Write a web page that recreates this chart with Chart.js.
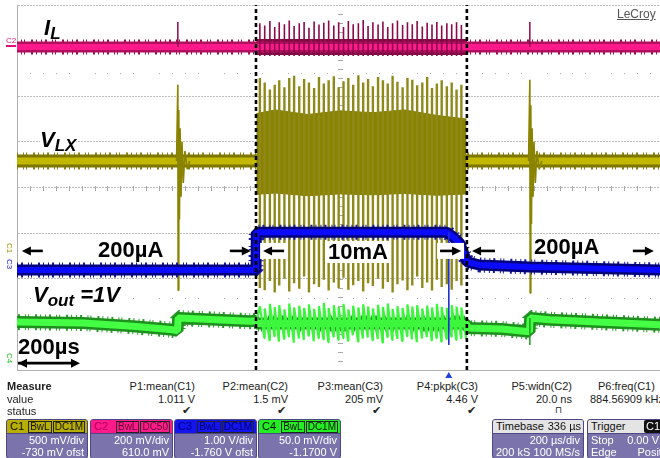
<!DOCTYPE html>
<html>
<head>
<meta charset="utf-8">
<script src="https://cdn.jsdelivr.net/npm/chart.js@4.4.0/dist/chart.umd.min.js"></script>
<style>
  body { margin: 0; width: 660px; height: 458px; overflow: hidden; position: relative; background: #fff;
         font-family: "Liberation Sans", Arial, sans-serif; }
  #scope { position: absolute; left: 0; top: 0; }
  .lbl { position: absolute; font-weight: bold; color: #000; background: #fff; line-height: 1; white-space: nowrap; font-size: 22px; }
  .it { font-style: italic; }
  .sub { font-size: 17px; position: relative; top: 4px; }
  .ch { position: absolute; font-size: 8px; line-height: 1; }
  .m { position: absolute; font-size: 11px; line-height: 1; color: #222; white-space: nowrap; }
  .box { position: absolute; top: 419px; height: 40px; background: #7b73ab; border: 1px solid #4e4785;
         border-radius: 3px; color: #fff; font-size: 11px; overflow: hidden; box-sizing: border-box; }
  .hd { height: 13px; line-height: 13px; padding: 0 3px; position: relative; border-bottom: 1px solid #4e4785; }
  .hd .r { position: absolute; right: 2px; top: 0; }
  .bd { height: 12px; line-height: 12px; padding: 0 3px; text-align: right; position: relative; }
  .bd .l { position: absolute; left: 3px; }
  .bdg { border: 1px solid #222; padding: 0 1px; font-size: 10px; line-height: 10px; display: inline-block; margin-left: 1px; }
</style>
</head>
<body>
<canvas id="scope" width="660" height="378"></canvas>

<!-- trace annotations -->
<div class="lbl it" style="left:44px;top:17px;">I<span class="sub">L</span></div>
<div class="lbl it" style="left:40px;top:129px;">V<span class="sub">LX</span></div>
<div class="lbl" style="left:96px;top:239px;padding:0 2px;">200µA</div>
<div class="lbl" style="left:326px;top:241px;padding:0 2px;">10mA</div>
<div class="lbl" style="left:532px;top:236px;padding:0 2px;">200µA</div>
<div class="lbl it" style="left:33px;top:284px;padding-right:4px;">V<span class="sub">out</span> =1V</div>
<div class="lbl" style="left:18px;top:336px;">200µs</div>
<div class="m" style="left:617px;top:8px;font-size:12px;color:#555;text-decoration:underline;">LeCroy</div>

<!-- channel markers -->
<div class="ch" style="left:6px;top:37px;color:#e0107a;border-bottom:2px solid #e0107a;">C2</div>
<div class="ch" style="left:5px;top:243px;color:#9a9300;writing-mode:vertical-rl;">C1</div>
<div class="ch" style="left:5px;top:259px;color:#1010d0;writing-mode:vertical-rl;">C3</div>
<div class="ch" style="left:5px;top:353px;color:#22c022;writing-mode:vertical-rl;">C4</div>

<!-- measurement table -->
<div class="m" style="left:7px;top:381px;font-weight:bold;">Measure</div>
<div class="m" style="left:7px;top:394px;">value</div>
<div class="m" style="left:7px;top:406px;">status</div>

<div class="m" style="right:465px;top:381px;">P1:mean(C1)</div>
<div class="m" style="right:465px;top:394px;">1.011 V</div>
<div class="m" style="right:469px;top:405px;">✔</div>
<div class="m" style="right:372px;top:381px;">P2:mean(C2)</div>
<div class="m" style="right:372px;top:394px;">1.5 mV</div>
<div class="m" style="right:374px;top:405px;">✔</div>
<div class="m" style="right:277px;top:381px;">P3:mean(C3)</div>
<div class="m" style="right:277px;top:394px;">205 mV</div>
<div class="m" style="right:279px;top:405px;">✔</div>
<div class="m" style="right:182px;top:381px;">P4:pkpk(C3)</div>
<div class="m" style="right:182px;top:394px;">4.46 V</div>
<div class="m" style="right:184px;top:405px;">✔</div>
<div class="m" style="right:88px;top:381px;">P5:widn(C2)</div>
<div class="m" style="right:88px;top:394px;">20.0 ns</div>
<div class="m" style="right:98px;top:406px;font-size:9px;">⊓</div>
<div class="m" style="left:598px;top:381px;">P6:freq(C1)</div>
<div class="m" style="left:590px;top:394px;">884.56909 kHz</div>

<!-- channel boxes -->
<div class="box" style="left:6px;width:82px;">
  <div class="hd" style="background:#b8ae00;color:#111;">C1<span class="r"><span class="bdg">BwL</span><span class="bdg">DC1M</span></span></div>
  <div class="bd">500 mV/div</div>
  <div class="bd">-730 mV ofst</div>
</div>
<div class="box" style="left:90px;width:83px;">
  <div class="hd" style="background:#ff1a8c;color:#b0005a;">C2<span class="r"><span class="bdg" style="color:#600030;">BwL</span><span class="bdg" style="color:#600030;">DC50</span></span></div>
  <div class="bd">200 mV/div</div>
  <div class="bd">610.0 mV</div>
</div>
<div class="box" style="left:174px;width:83px;">
  <div class="hd" style="background:#1414f0;color:#00008a;">C3<span class="r"><span class="bdg" style="color:#00006a;">BwL</span><span class="bdg" style="color:#00006a;">DC1M</span></span></div>
  <div class="bd">1.00 V/div</div>
  <div class="bd">-1.760 V ofst</div>
</div>
<div class="box" style="left:258px;width:83px;">
  <div class="hd" style="background:#22ee22;color:#111;">C4<span class="r"><span class="bdg">BwL</span><span class="bdg">DC1M</span></span></div>
  <div class="bd">50.0 mV/div</div>
  <div class="bd">-1.1700 V</div>
</div>
<div class="box" style="left:492px;width:92px;">
  <div class="hd" style="background:#e4e4e4;color:#111;">Timebase<span class="r">336 µs</span></div>
  <div class="bd">200 µs/div</div>
  <div class="bd"><span class="l">200 kS</span>100 MS/s</div>
</div>
<div class="box" style="left:587px;width:90px;">
  <div class="hd" style="background:#e4e4e4;color:#111;">Trigger<span class="r" style="right:14px;background:#111;color:#fff;padding:0 2px;border-radius:2px;">C1</span></div>
  <div class="bd" style="padding-right:17px;"><span class="l">Stop</span>0.00 V</div>
  <div class="bd" style="padding-right:0;"><span class="l">Edge</span>Positive</div>
</div>

<script>
// time axis in µs (200 µs/div), vertical axis in screen divisions (0 = bottom, 8 = top)
const timeMax = 1991;

// switching burst, one entry per visible pulse
const burstT = [752, 767, 783, 798, 812, 828, 843, 858, 874, 889, 904, 920, 935, 950, 965, 981, 996, 1011, 1026, 1041, 1057,
                1072, 1087, 1102, 1118, 1133, 1148, 1163, 1178, 1194, 1209, 1224, 1239, 1255, 1270, 1285, 1300, 1315, 1331, 1346, 1361, 1376];

// C2 - inductor current
const ilLevel = 7.08;
const ilSingleT = [498, 1588];
const ilSingleTop = [7.63, 7.63];
const ilBurstTop = [7.60, 7.55, 7.65, 7.52, 7.62, 7.58, 7.66, 7.54, 7.60, 7.63, 7.50, 7.64, 7.57, 7.61, 7.66, 7.55, 7.62, 7.52, 7.65, 7.58, 7.60,
                    7.67, 7.54, 7.62, 7.57, 7.64, 7.52, 7.60, 7.66, 7.56, 7.62, 7.58, 7.65, 7.53, 7.61, 7.57, 7.63, 7.55, 7.60, 7.58, 7.62, 7.56];

// C1 - switch node
const vlxLevel = 4.58;
const vlxBurstTop = [6.40, 6.30, 6.15, 6.25, 6.35, 6.20, 6.40, 6.45, 6.22, 6.38, 6.30, 6.18, 6.42, 6.28, 6.35, 6.44, 6.20, 6.33, 6.40, 6.25, 6.46,
                     6.30, 6.38, 6.22, 6.42, 6.35, 6.28, 6.45, 6.32, 6.20, 6.40, 6.36, 6.24, 6.30, 6.42, 6.18, 6.28, 6.35, 6.22, 6.30, 6.15, 6.25];
const vlxBurstBot = [1.80, 1.75, 1.95, 1.70, 1.85, 2.00, 1.72, 1.90, 1.78, 2.05, 1.70, 1.88, 1.82, 1.98, 1.74, 1.92, 1.80, 2.02, 1.76, 1.86, 1.95,
                     1.72, 1.90, 1.84, 2.00, 1.78, 1.93, 1.70, 1.88, 1.96, 1.75, 1.85, 2.05, 1.80, 1.92, 1.74, 1.98, 1.82, 1.88, 1.76, 1.95, 1.85];
const vlxBandT = [741, 800, 900, 1000, 1100, 1200, 1300, 1392];
const vlxBandHi = [5.62, 5.70, 5.60, 5.68, 5.64, 5.70, 5.58, 5.50];
const vlxBandLo = [3.85, 3.88, 3.82, 3.86, 3.84, 3.87, 3.83, 3.86];
const vlxRing1T = [494, 498, 499, 501, 503, 505, 508, 511, 515, 520, 527, 535];
const vlxRing1V = [4.58, 6.25, 1.75, 5.70, 3.30, 5.30, 3.80, 5.00, 4.10, 4.80, 4.40, 4.58];
const vlxRing2T = [1584, 1588, 1589, 1591, 1593, 1595, 1598, 1601, 1605, 1610, 1617, 1625];
const vlxRing2V = [4.58, 6.36, 1.69, 5.80, 3.20, 5.30, 3.80, 5.00, 4.10, 4.80, 4.40, 4.58];

// C3 - load current
const ioT = [0, 740, 741, 1331, 1350, 1371, 1381, 1393, 1433, 1588, 1991];
const ioV = [2.19, 2.19, 3.02, 3.02, 2.92, 2.78, 2.59, 2.37, 2.30, 2.26, 2.19];
const ioMarkT = 1337;
const ioMarkV = [3.02, 0.55];

// C4 - output voltage
const voutT = [0, 204, 359, 483, 497, 499, 721, 740, 741, 1392, 1394, 1500, 1587, 1589, 1650, 1800, 1991];
const voutV = [1.05, 1.03, 0.96, 0.88, 0.86, 1.14, 1.07, 1.08, 1.02, 1.02, 0.92, 0.90, 0.84, 1.14, 1.10, 1.05, 0.99];
const voutBurstPeak = [1.40, 1.35, 1.45, 1.38, 1.42, 1.33, 1.46, 1.37, 1.41, 1.36, 1.44, 1.34, 1.40, 1.47, 1.36, 1.42, 1.38, 1.45, 1.33, 1.41, 1.37,
                       1.44, 1.39, 1.35, 1.43, 1.38, 1.46, 1.34, 1.40, 1.36, 1.44, 1.39, 1.42, 1.35, 1.41, 1.37, 1.45, 1.38, 1.36, 1.42, 1.39, 1.37];
const voutBurstLow = [0.70, 0.65, 0.74, 0.62, 0.68, 0.72, 0.60, 0.69, 0.66, 0.75, 0.63, 0.70, 0.67, 0.61, 0.73, 0.66, 0.70, 0.64, 0.76, 0.62, 0.69,
                      0.71, 0.65, 0.68, 0.60, 0.72, 0.66, 0.70, 0.63, 0.74, 0.67, 0.61, 0.69, 0.72, 0.65, 0.70, 0.62, 0.68, 0.73, 0.66, 0.70, 0.68];
const voutStepT = [1588];
const voutStepV = [0.55];

// cursors (dashed) and annotation arrows
const cursorT = [740, 1393];
const arrowRows = [
  { from: 80, to: 15, y: 2.61 }, { from: 659, to: 724, y: 2.61 },
  { from: 827, to: 762, y: 2.61, clear: true }, { from: 1310, to: 1375, y: 2.61, clear: true },
  { from: 1480, to: 1409, y: 2.61 }, { from: 1907, to: 1972, y: 2.61 }
];
const scaleBar = { from: 3, to: 195, y: 0.15 };

// irregular dash used to give the trace bands their noisy fringe
const fringe = [1, 3, 2, 5, 1, 2, 1, 6, 2, 3, 1, 4];

function pairs(ts, vs) {
  return ts.map((t, i) => ({ x: t, y: vs[i] }));
}
function spikes(ts, from, to) {
  const pts = [];
  ts.forEach((t, i) => {
    const a = Array.isArray(from) ? from[i] : from;
    const b = Array.isArray(to) ? to[i] : to;
    pts.push({ x: t, y: a }, { x: t, y: b }, { x: t, y: null });
  });
  return pts;
}
function sawtooth() {
  const pts = [{ x: 741, y: 1.05 }];
  burstT.forEach((t, i) => {
    const next = i < burstT.length - 1 ? burstT[i + 1] : 1392;
    pts.push({ x: t, y: voutBurstPeak[i] }, { x: next - 1, y: voutBurstLow[i] });
  });
  return pts;
}
function vline(ts) {
  const pts = [];
  ts.forEach(t => pts.push({ x: t, y: 0 }, { x: t, y: 8 }, { x: t, y: null }));
  return pts;
}
const flat = v => [{ x: 0, y: v }, { x: timeMax, y: v }];

function line(data, color, width, order, extra) {
  return Object.assign({ data: data, borderColor: color, borderWidth: width, order: order,
                         pointRadius: 0, fill: false, spanGaps: false, borderCapStyle: 'butt',
                         borderJoinStyle: 'bevel' }, extra || {});
}

const datasets = [
  line(vline(cursorT), '#000', 2.6, 0, { borderDash: [4, 3] }),
  line(spikes([ioMarkT], ioMarkV[0], ioMarkV[1]), '#2030d0', 1, 1),
  line(pairs(ioT, ioV), '#0a0aff', 6, 2),
  line(pairs(ioT, ioV), '#00007a', 11, 3),
  line(pairs(ioT, ioV), '#1a1aa0', 15, 3.5, { borderDash: fringe }),
  line(sawtooth(), '#3cf53c', 2.2, 4),
  line(spikes(voutStepT, 1.14, voutStepV), '#1c9c1c', 1.5, 4),
  line(pairs(voutT, voutV), '#44ff44', 7, 5),
  line(pairs(voutT, voutV), '#1d8f1d', 12, 6),
  line(pairs(voutT, voutV), '#2a9a2a', 16, 6.5, { borderDash: fringe, borderDashOffset: 3 }),
  line(pairs(vlxRing1T, vlxRing1V), '#8a8300', 1.6, 7),
  line(pairs(vlxRing2T, vlxRing2V), '#8a8300', 1.6, 7),
  line(spikes(burstT, vlxBurstBot, vlxBurstTop), '#8f891a', 2.4, 8),
  line(pairs(vlxBandT, vlxBandHi), '#857e00', 1, 9),
  line(pairs(vlxBandT, vlxBandLo), '#857e00', 1, 9, { fill: '-1', backgroundColor: '#8a8300' }),
  line(flat(vlxLevel), '#c2b800', 7, 10),
  line(flat(vlxLevel), '#7d7600', 13, 11),
  line(flat(vlxLevel), '#8a8410', 17, 11.5, { borderDash: fringe, borderDashOffset: 5 }),
  line(spikes(ilSingleT, ilLevel, ilSingleTop), '#8a0a4a', 1.5, 12),
  line(spikes(burstT, ilLevel - 0.2, ilBurstTop), '#8a0a4a', 1.6, 12),
  line(flat(ilLevel), '#ff1a8c', 6, 13),
  line(flat(ilLevel), '#b0105e', 11, 14),
  line(flat(ilLevel), '#9a1050', 15, 14.5, { borderDash: fringe, borderDashOffset: 7 }),
  line([{ x: 741, y: ilLevel }, { x: 1392, y: ilLevel }], '#7a0a40', 16, 15)
];

function drawArrow(ctx, x0, x1, y, bothEnds) {
  const dir = x1 > x0 ? 1 : -1;
  ctx.beginPath();
  ctx.moveTo(x0, y);
  ctx.lineTo(x1 - dir * 6, y);
  ctx.stroke();
  const head = (x, d) => {
    ctx.beginPath();
    ctx.moveTo(x, y);
    ctx.lineTo(x - d * 9, y - 4.5);
    ctx.lineTo(x - d * 9, y + 4.5);
    ctx.closePath();
    ctx.fill();
  };
  head(x1, dir);
  if (bothEnds) head(x0, -dir);
}

const scopeDecor = {
  id: 'scopeDecor',
  beforeDatasetsDraw(chart) {
    const { ctx, scales: { x, y } } = chart;
    ctx.save();
    ctx.fillStyle = '#a8a8a8';
    // dotted sub-division rows
    [6.51, 1.58].forEach(v => {
      const py = Math.round(y.getPixelForValue(v));
      for (let t = 40; t < timeMax; t += 40) {
        if (t % 200 === 0) continue;
        ctx.fillRect(Math.round(x.getPixelForValue(t)), py, 1, 1);
      }
    });
    // tick marks along the centre cross
    const cy = Math.round(y.getPixelForValue(4));
    for (let t = 40; t < timeMax; t += 40) {
      ctx.fillRect(Math.round(x.getPixelForValue(t)), cy - 2, 1, 5);
    }
    const cx = Math.round(x.getPixelForValue(1000));
    for (let v = 0.2; v < 8; v += 0.2) {
      ctx.fillRect(cx - 2, Math.round(y.getPixelForValue(v)), 5, 1);
    }
    ctx.restore();
  },
  afterDatasetsDraw(chart) {
    const { ctx, scales: { x, y } } = chart;
    ctx.save();
    ctx.strokeStyle = '#000';
    ctx.fillStyle = '#000';
    ctx.lineWidth = 2.6;
    arrowRows.forEach(a => {
      const x0 = x.getPixelForValue(a.from), x1 = x.getPixelForValue(a.to), py = y.getPixelForValue(a.y);
      if (a.clear) {
        ctx.save();
        ctx.fillStyle = '#fff';
        ctx.fillRect(Math.min(x0, x1) - 3, py - 8, Math.abs(x1 - x0) + 6, 16);
        ctx.restore();
      }
      drawArrow(ctx, x0, x1, py, false);
    });
    drawArrow(ctx, x.getPixelForValue(scaleBar.from), x.getPixelForValue(scaleBar.to), y.getPixelForValue(scaleBar.y), true);
    // trigger position marker under the grid
    const tx = x.getPixelForValue(ioMarkT), by = chart.chartArea.bottom;
    ctx.fillStyle = '#2040e0';
    ctx.beginPath();
    ctx.moveTo(tx, by + 2);
    ctx.lineTo(tx - 3.5, by + 8);
    ctx.lineTo(tx + 3.5, by + 8);
    ctx.closePath();
    ctx.fill();
    ctx.restore();
  }
};

const gridColor = c => (c.tick && Math.abs(c.tick.value % 200) > 0.01 && c.scale.axis === 'x') ? 'rgba(0,0,0,0)' : '#bdbdbd';

new Chart(document.getElementById('scope'), {
  type: 'line',
  data: { datasets: datasets },
  options: {
    responsive: false,
    animation: false,
    events: [],
    layout: { padding: { left: 17, top: 5, right: 0, bottom: 8 } },
    plugins: { legend: { display: false }, tooltip: { enabled: false } },
    elements: { line: { tension: 0 }, point: { radius: 0 } },
    scales: {
      x: { type: 'linear', min: 0, max: timeMax,
           ticks: { display: false, stepSize: 200 },
           grid: { color: gridColor, drawTicks: false, lineWidth: 1 },
           border: { display: true, color: '#b0b0b0', dash: [2, 1] } },
      y: { type: 'linear', min: 0, max: 8,
           ticks: { display: false, stepSize: 1 },
           grid: { color: gridColor, drawTicks: false, lineWidth: 1 },
           border: { display: true, color: '#b0b0b0', dash: [2, 1] } }
    }
  },
  plugins: [scopeDecor]
});
</script>
</body>
</html>
